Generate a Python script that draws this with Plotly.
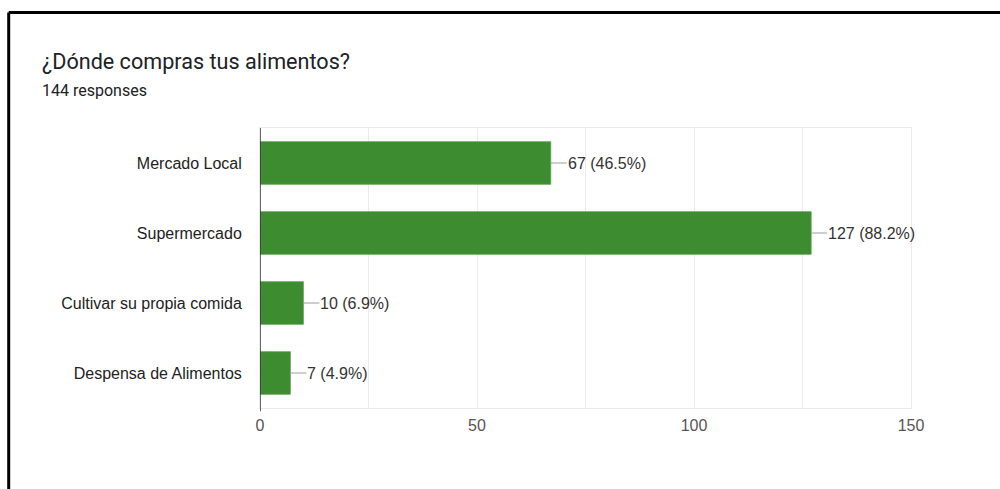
import plotly.graph_objects as go

# Survey answers: where people buy their food
categories = ["Mercado Local", "Supermercado", "Cultivar su propia comida", "Despensa de Alimentos"]
counts = [67, 127, 10, 7]
total_responses = 144
x_ticks = [0, 50, 100, 150]

title_text = "¿Dónde compras tus alimentos?"
subtitle_text = f"{total_responses} responses"

BAR_GREEN = "#3d8c30"
GRID = "#ebebeb"

# Figure / plot-area geometry in pixels
W, H = 1000, 489
L, R, T, B = 260, 89, 128, 81
plot_w = W - L - R
plot_h = H - T - B


def px_to_paper_x(px):
    return (px - L) / plot_w


def px_to_paper_y(py):
    return (H - B - py) / plot_h


labels = [f"{c} ({c / total_responses * 100:.1f}%)" for c in counts]

fig = go.Figure(
    go.Bar(
        x=counts,
        y=categories,
        orientation="h",
        marker=dict(color=BAR_GREEN, line=dict(color="#5fa552", width=0.8)),
        hoverinfo="skip",
    )
)

# Value labels with a short grey leader line from the bar end
for cat, c, lab in zip(categories, counts, labels):
    fig.add_annotation(
        x=c, y=cat, xref="x", yref="y",
        text=lab, showarrow=True, arrowhead=0, arrowwidth=1, arrowcolor="#9e9e9e",
        ax=16, ay=0, xanchor="left", borderpad=0,
        font=dict(family="Liberation Sans, Arial", size=16, color="#333333"),
    )

# Heading and response count
fig.add_annotation(
    x=px_to_paper_x(40), y=px_to_paper_y(62), xref="paper", yref="paper",
    text=title_text, showarrow=False, xanchor="left", yanchor="middle",
    font=dict(family="Roboto", size=21.6, color="#202124"),
)
fig.add_annotation(
    x=px_to_paper_x(40), y=px_to_paper_y(90), xref="paper", yref="paper",
    text=subtitle_text, showarrow=False, xanchor="left", yanchor="middle",
    font=dict(family="Roboto", size=16, color="#202124"),
)

# Black frame along the top and left edges
fig.add_shape(type="line", xref="paper", yref="paper",
              x0=px_to_paper_x(8.7), x1=px_to_paper_x(1005),
              y0=px_to_paper_y(12.5), y1=px_to_paper_y(12.5),
              line=dict(color="black", width=3))
fig.add_shape(type="line", xref="paper", yref="paper",
              x0=px_to_paper_x(8.7), x1=px_to_paper_x(8.7),
              y0=px_to_paper_y(12.5), y1=px_to_paper_y(495),
              line=dict(color="black", width=3))

fig.update_layout(
    width=W, height=H,
    margin=dict(l=L, r=R, t=T, b=B, pad=0),
    paper_bgcolor="white", plot_bgcolor="white",
    bargap=0.39,
    showlegend=False,
    font=dict(family="Liberation Sans, Arial", size=16, color="#222222"),
)

fig.update_xaxes(
    range=[0, 150], tickvals=x_ticks, ticktext=[str(v) for v in x_ticks],
    showgrid=True, gridcolor=GRID, gridwidth=1,
    minor=dict(dtick=25, tick0=0, showgrid=True, gridcolor=GRID, gridwidth=1),
    showline=True, linecolor=GRID, linewidth=1, mirror=True,
    zeroline=False, ticks="", ticklabelstandoff=3,
    tickfont=dict(family="Liberation Sans, Arial", size=16, color="#555555"),
    fixedrange=True,
)
fig.update_yaxes(
    autorange="reversed", showgrid=False, zeroline=False,
    showline=True, linecolor=GRID, linewidth=1, mirror=True,
    ticks="", ticklabelstandoff=14,
    tickfont=dict(family="Liberation Sans, Arial", size=16, color="#222222"),
    fixedrange=True,
)

# Dark axis line at x = 0
fig.add_shape(type="line", xref="x", yref="paper", x0=0, x1=0, y0=-0.012, y1=1,
              line=dict(color="#333333", width=1.5))

fig.write_html("out.html", config=dict(displayModeBar=False))
